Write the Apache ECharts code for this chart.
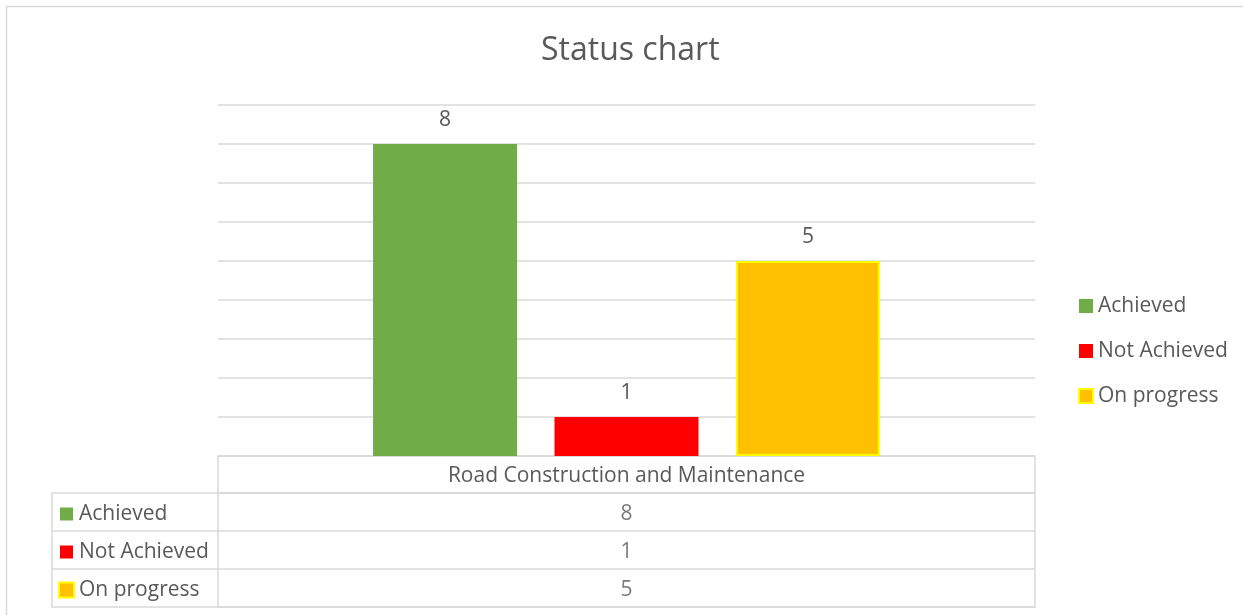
<!DOCTYPE html>
<html>
<head>
<meta charset="utf-8">
<title>Status chart</title>
<script src="https://cdn.jsdelivr.net/npm/echarts@6/dist/echarts.min.js"></script>
<style>
  html, body { margin: 0; padding: 0; background: #fff; }
  #chart { width: 1243px; height: 615px; }
</style>
</head>
<body>
<div id="chart"></div>
<script>
const categories = ['Road Construction and Maintenance'];
const seriesNames = ['Achieved', 'Not Achieved', 'On progress'];
const seriesValues = [[8], [1], [5]];
const seriesColors = ['#70AD47', '#FF0000', '#FFC000'];
const seriesBorders = ['#70AD47', '#FF0000', '#FFFF00'];

const FONT = 'Open Sans';
const GRID_LINE = '#d9d9d9';
const TEXT = '#595959';
const FS = 21;

const chart = echarts.init(document.getElementById('chart'));

// table rows: one label cell per series
const rich = {};
seriesNames.forEach((name, i) => {
    rich['s' + i] = {
        width: 13, height: 13,
        backgroundColor: seriesColors[i],
        borderColor: seriesBorders[i],
        borderWidth: i === 2 ? 2 : 0
    };
    rich['t' + i] = { color: TEXT, fontSize: FS, fontFamily: FONT, padding: [0, 0, 0, 6] };
});

const barSeries = seriesNames.map((name, i) => ({
    name: name,
    type: 'bar',
    xAxisIndex: 0,
    yAxisIndex: 0,
    barWidth: 144,
    barGap: '26%',
    data: seriesValues[i],
    itemStyle: {
        color: seriesColors[i],
        borderColor: seriesBorders[i],
        borderWidth: i === 2 ? 2 : 0
    },
    label: {
        show: true,
        position: 'top',
        distance: 13,
        color: TEXT,
        fontSize: FS,
        fontFamily: FONT
    }
}));

const tableData = [];
seriesNames.forEach((name, i) => {
    categories.forEach((c, j) => {
        tableData.push([j, i, seriesValues[i][j]]);
    });
});

const option = {
    animation: false,
    textStyle: { fontFamily: FONT },
    title: {
        text: 'Status chart',
        left: 541,
        top: 35,
        padding: 0,
        textStyle: { color: TEXT, fontSize: 32, fontWeight: 'normal', fontFamily: FONT }
    },
    legend: {
        orient: 'vertical',
        left: 1078,
        top: 295,
        padding: 0,
        itemWidth: 14,
        itemHeight: 14,
        itemGap: 23,
        icon: 'rect',
        data: seriesNames,
        textStyle: { color: TEXT, fontSize: FS, lineHeight: 22, fontFamily: FONT, padding: [0, 0, 0, 0] }
    },
    graphic: [{
        type: 'rect',
        shape: { x: 6.5, y: 6.5, width: 1400, height: 800 },
        style: { fill: 'none', stroke: GRID_LINE, lineWidth: 1.5 },
        silent: true
    }],
    grid: [
        { left: 218, top: 105, width: 817, height: 351 },
        { left: 218, top: 456, width: 817, height: 37, show: true, borderColor: GRID_LINE, borderWidth: 1.5 },
        { left: 218, top: 493, width: 817, height: 114, show: true, borderColor: GRID_LINE, borderWidth: 1.5 }
    ],
    xAxis: [
        {
            type: 'category', gridIndex: 0, data: categories,
            axisLine: { show: false }, axisTick: { show: false },
            axisLabel: { show: true, margin: 10, color: TEXT, fontSize: FS, fontFamily: FONT }
        },
        { type: 'category', gridIndex: 1, data: categories, show: false },
        { type: 'category', gridIndex: 2, data: categories, show: false }
    ],
    yAxis: [
        {
            type: 'value', gridIndex: 0, min: 0, max: 9, interval: 1,
            axisLabel: { show: false }, axisLine: { show: false }, axisTick: { show: false },
            splitLine: { lineStyle: { color: GRID_LINE, width: 1.5 } }
        },
        { type: 'value', gridIndex: 1, show: false },
        {
            type: 'category', gridIndex: 2, data: seriesNames, inverse: true,
            axisLine: { show: false },
            axisTick: { show: true, length: 166, lineStyle: { color: GRID_LINE, width: 1.5 } },
            splitLine: { show: true, lineStyle: { color: GRID_LINE, width: 1.5 } },
            axisLabel: {
                align: 'left',
                margin: 158,
                padding: [4, 0, 0, 0],
                formatter: (v, i) => `{s${i}|}{t${i}|${v}}`,
                rich: rich
            }
        },
        {
            type: 'category', gridIndex: 2, data: seriesNames, position: 'left', offset: 166,
            axisLine: { show: true, lineStyle: { color: GRID_LINE, width: 1.5 } },
            axisTick: { show: false }, axisLabel: { show: false }
        }
    ],
    series: barSeries.concat([{
        type: 'scatter',
        xAxisIndex: 2,
        yAxisIndex: 2,
        symbolSize: 0,
        silent: true,
        data: tableData,
        label: {
            show: true,
            position: 'inside',
            offset: [0, 2],
            formatter: p => p.value[2],
            color: TEXT,
            fontSize: FS,
            fontFamily: FONT
        }
    }])
};

chart.setOption(option);
</script>
</body>
</html>
